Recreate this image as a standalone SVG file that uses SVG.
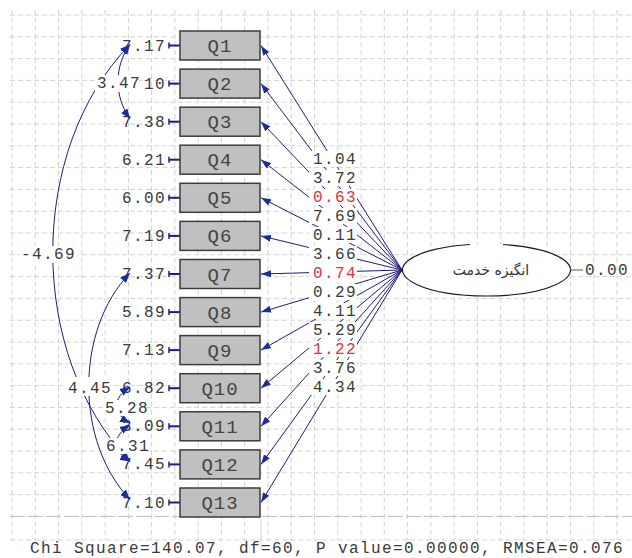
<svg xmlns="http://www.w3.org/2000/svg" width="632" height="558" viewBox="0 0 632 558">
  <style>
    .grid { fill: none; stroke: #d2d2d2; stroke-width: 1; stroke-dasharray: 5 3; }
    .box { fill: #c0c0c0; stroke: #3c3c3c; stroke-width: 1.5; }
    .qt { font-family: "Liberation Mono", "DejaVu Sans Mono", monospace; font-size: 19px; letter-spacing: 1px; fill: #444; text-anchor: middle; }
    .num { font-family: "Liberation Mono", "DejaVu Sans Mono", monospace; font-size: 16px; letter-spacing: 1.4px; fill: #3a3a3a; }
    .end { text-anchor: end; }
    .red { fill: #e0303a; }
    .bg { fill: #ffffff; }
    .path { fill: none; stroke: #1c1c84; stroke-width: 1; marker-end: url(#ah); }
    .arc { fill: none; stroke: #1c1c84; stroke-width: 1; marker-start: url(#ah2); marker-end: url(#ah2); }
    .err { stroke: #1c1c84; stroke-width: 2; fill: none; }
    .tick { stroke: #1c1c84; stroke-width: 1.5; }
  </style>
  <defs>
    <marker id="ah" viewBox="0 0 10 7" refX="10" refY="3.5" markerWidth="10" markerHeight="7" markerUnits="userSpaceOnUse" orient="auto">
      <path d="M0,0 L10,3.5 L0,7 z" fill="#1f2a9c"/>
    </marker>
    <marker id="ah2" viewBox="0 0 10 8" refX="10" refY="4" markerWidth="10" markerHeight="8" markerUnits="userSpaceOnUse" orient="auto-start-reverse">
      <path d="M0,0 L10,4 L0,8 z" fill="#1f2a9c"/>
    </marker>
  </defs>

  <rect x="0" y="0" width="632" height="558" fill="#ffffff"/>

  <!-- background grid -->
  <g id="grid">
    <path class="grid" d="M12,10V540 M35.3,10V540 M58.5,10V540 M81.8,10V540 M105.1,10V540 M128.4,10V540 M151.6,10V540 M174.9,10V540 M198.2,10V540 M221.4,10V540 M244.7,10V540 M268,10V540 M291.2,10V540 M314.5,10V540 M337.8,10V540 M361.1,10V540 M384.3,10V540 M407.6,10V540 M430.9,10V540 M454.1,10V540 M477.4,10V540 M500.7,10V540 M523.9,10V540 M547.2,10V540 M570.5,10V540 M593.8,10V540 M617,10V540"/>
    <path class="grid" d="M10,15H632 M10,36.8H632 M10,58.6H632 M10,80.4H632 M10,102.2H632 M10,124H632 M10,145.8H632 M10,167.6H632 M10,189.4H632 M10,211.2H632 M10,233H632 M10,254.8H632 M10,276.6H632 M10,298.4H632 M10,320.2H632 M10,342H632 M10,363.8H632 M10,385.6H632 M10,407.4H632 M10,429.2H632 M10,451H632 M10,472.8H632 M10,494.6H632 M10,540H632"/>
    <path d="M10,516.4H632" fill="none" stroke="#bdbdbd" stroke-width="1" stroke-dasharray="15 3"/>
    <path d="M261,519V550" fill="none" stroke="#d6d6d6" stroke-width="1"/>
  </g>

  <!-- observed variables with error variances -->
  <g id="Q1"><text class="num end" x="166" y="50.5">7.17</text><path class="err" d="M169,45.5H180"/><path class="tick" d="M169,42.5V48.5"/><rect class="box" x="180" y="31" width="80" height="29"/><text class="qt" x="220" y="52">Q1</text></g>
  <g id="Q2"><text class="num end" x="166" y="88.6">10</text><path class="err" d="M169,83.6H180"/><path class="tick" d="M169,80.6V86.6"/><rect class="box" x="180" y="69.1" width="80" height="29"/><text class="qt" x="220" y="90.1">Q2</text></g>
  <g id="Q3"><text class="num end" x="166" y="126.7">7.38</text><path class="err" d="M169,121.7H180"/><path class="tick" d="M169,118.7V124.7"/><rect class="box" x="180" y="107.2" width="80" height="29"/><text class="qt" x="220" y="128.2">Q3</text></g>
  <g id="Q4"><text class="num end" x="166" y="164.7">6.21</text><path class="err" d="M169,159.7H180"/><path class="tick" d="M169,156.7V162.7"/><rect class="box" x="180" y="145.2" width="80" height="29"/><text class="qt" x="220" y="166.2">Q4</text></g>
  <g id="Q5"><text class="num end" x="166" y="202.8">6.00</text><path class="err" d="M169,197.8H180"/><path class="tick" d="M169,194.8V200.8"/><rect class="box" x="180" y="183.3" width="80" height="29"/><text class="qt" x="220" y="204.3">Q5</text></g>
  <g id="Q6"><text class="num end" x="166" y="240.9">7.19</text><path class="err" d="M169,235.9H180"/><path class="tick" d="M169,232.9V238.9"/><rect class="box" x="180" y="221.4" width="80" height="29"/><text class="qt" x="220" y="242.4">Q6</text></g>
  <g id="Q7"><text class="num end" x="166" y="279">7.37</text><path class="err" d="M169,274H180"/><path class="tick" d="M169,271V277"/><rect class="box" x="180" y="259.5" width="80" height="29"/><text class="qt" x="220" y="280.5">Q7</text></g>
  <g id="Q8"><text class="num end" x="166" y="317.1">5.89</text><path class="err" d="M169,312.1H180"/><path class="tick" d="M169,309.1V315.1"/><rect class="box" x="180" y="297.6" width="80" height="29"/><text class="qt" x="220" y="318.6">Q8</text></g>
  <g id="Q9"><text class="num end" x="166" y="355.1">7.13</text><path class="err" d="M169,350.1H180"/><path class="tick" d="M169,347.1V353.1"/><rect class="box" x="180" y="335.6" width="80" height="29"/><text class="qt" x="220" y="356.6">Q9</text></g>
  <g id="Q10"><text class="num end" x="166" y="393.2">6.82</text><path class="err" d="M169,388.2H180"/><path class="tick" d="M169,385.2V391.2"/><rect class="box" x="180" y="373.7" width="80" height="29"/><text class="qt" x="220" y="394.7">Q10</text></g>
  <g id="Q11"><text class="num end" x="166" y="431.3">3.09</text><path class="err" d="M169,426.3H180"/><path class="tick" d="M169,423.3V429.3"/><rect class="box" x="180" y="411.8" width="80" height="29"/><text class="qt" x="220" y="432.8">Q11</text></g>
  <g id="Q12"><text class="num end" x="166" y="469.4">7.45</text><path class="err" d="M169,464.4H180"/><path class="tick" d="M169,461.4V467.4"/><rect class="box" x="180" y="449.9" width="80" height="29"/><text class="qt" x="220" y="470.9">Q12</text></g>
  <g id="Q13"><text class="num end" x="166" y="507.5">7.10</text><path class="err" d="M169,502.5H180"/><path class="tick" d="M169,499.5V505.5"/><rect class="box" x="180" y="488" width="80" height="29"/><text class="qt" x="220" y="509">Q13</text></g>

  <!-- connectors: loadings from the latent variable and error covariances -->
  <g id="connectors">
    <path class="path" d="M402,270L261,45.5"/>
    <path class="path" d="M402,270L261,83.6"/>
    <path class="path" d="M402,270L261,121.7"/>
    <path class="path" d="M402,270L261,159.7"/>
    <path class="path" d="M402,270L261,197.8"/>
    <path class="path" d="M402,270L261,235.9"/>
    <path class="path" d="M402,270L261,274"/>
    <path class="path" d="M402,270L261,312.1"/>
    <path class="path" d="M402,270L261,350.1"/>
    <path class="path" d="M402,270L261,388.2"/>
    <path class="path" d="M402,270L261,426.3"/>
    <path class="path" d="M402,270L261,464.4"/>
    <path class="path" d="M402,270L261,502.5"/>

    <g id="loading-labels">
      <rect class="bg" x="309" y="151" width="48" height="16"/><text class="num" x="313" y="164">1.04</text>
      <rect class="bg" x="309" y="170" width="48" height="16"/><text class="num" x="313" y="183">3.72</text>
      <rect class="bg" x="309" y="189" width="48" height="16"/><text class="num red" x="313" y="202">0.63</text>
      <rect class="bg" x="309" y="208" width="48" height="16"/><text class="num" x="313" y="221">7.69</text>
      <rect class="bg" x="309" y="227" width="48" height="16"/><text class="num" x="313" y="240">0.11</text>
      <rect class="bg" x="309" y="246" width="48" height="16"/><text class="num" x="313" y="259">3.66</text>
      <rect class="bg" x="309" y="265" width="48" height="16"/><text class="num red" x="313" y="278">0.74</text>
      <rect class="bg" x="309" y="284" width="48" height="16"/><text class="num" x="313" y="297">0.29</text>
      <rect class="bg" x="309" y="303" width="48" height="16"/><text class="num" x="313" y="316">4.11</text>
      <rect class="bg" x="309" y="322" width="48" height="16"/><text class="num" x="313" y="335">5.29</text>
      <rect class="bg" x="309" y="341" width="48" height="16"/><text class="num red" x="313" y="354">1.22</text>
      <rect class="bg" x="309" y="360" width="48" height="16"/><text class="num" x="313" y="373">3.76</text>
      <rect class="bg" x="309" y="379" width="48" height="16"/><text class="num" x="313" y="392">4.34</text>
    </g>

    <path class="arc" d="M130,44.5 C114,66 114,97 130,118.7"/>
    <path class="arc" d="M130,44.5 C27,150 27,355 130,461.4"/>
    <path class="arc" d="M130,273 C75,330 75,442 130,499.5"/>
    <path class="arc" d="M130,387.2 C112,398 112,413 130,423.3"/>
    <path class="arc" d="M130,425.3 C112,436 112,451 130,461.4"/>

    <g id="covariance-labels">
      <rect class="bg" x="95" y="75" width="44" height="17"/><text class="num" x="97" y="88">3.47</text>
      <rect class="bg" x="20" y="246" width="58" height="17"/><text class="num" x="21" y="259">-4.69</text>
      <rect class="bg" x="66" y="377" width="44" height="19"/><text class="num" x="68" y="393">4.45</text>
      <rect class="bg" x="103" y="400" width="44" height="16"/><text class="num" x="105" y="413">5.28</text>
      <rect class="bg" x="104" y="438" width="42" height="16"/><text class="num" x="106" y="451">6.31</text>
    </g>
  </g>

  <!-- latent variable -->
  <g id="latent">
    <ellipse cx="486" cy="270" rx="84" ry="26" fill="#ffffff"/>
    <path d="M503,244.5 A84,26 0 1,1 470,244.5" fill="none" stroke="#1a1a1a" stroke-width="1.2"/>
    <text x="491" y="275" font-family="DejaVu Sans, sans-serif" font-size="14" fill="#333" text-anchor="middle">انگیزه خدمت</text>
    <path d="M570,270H583" stroke="#555" stroke-width="1"/>
    <text class="num" x="585" y="275">0.00</text>
  </g>

  <!-- fit statistics -->
  <text class="num" x="30" y="553">Chi Square=140.07, df=60, P value=0.00000, RMSEA=0.076</text>
</svg>
